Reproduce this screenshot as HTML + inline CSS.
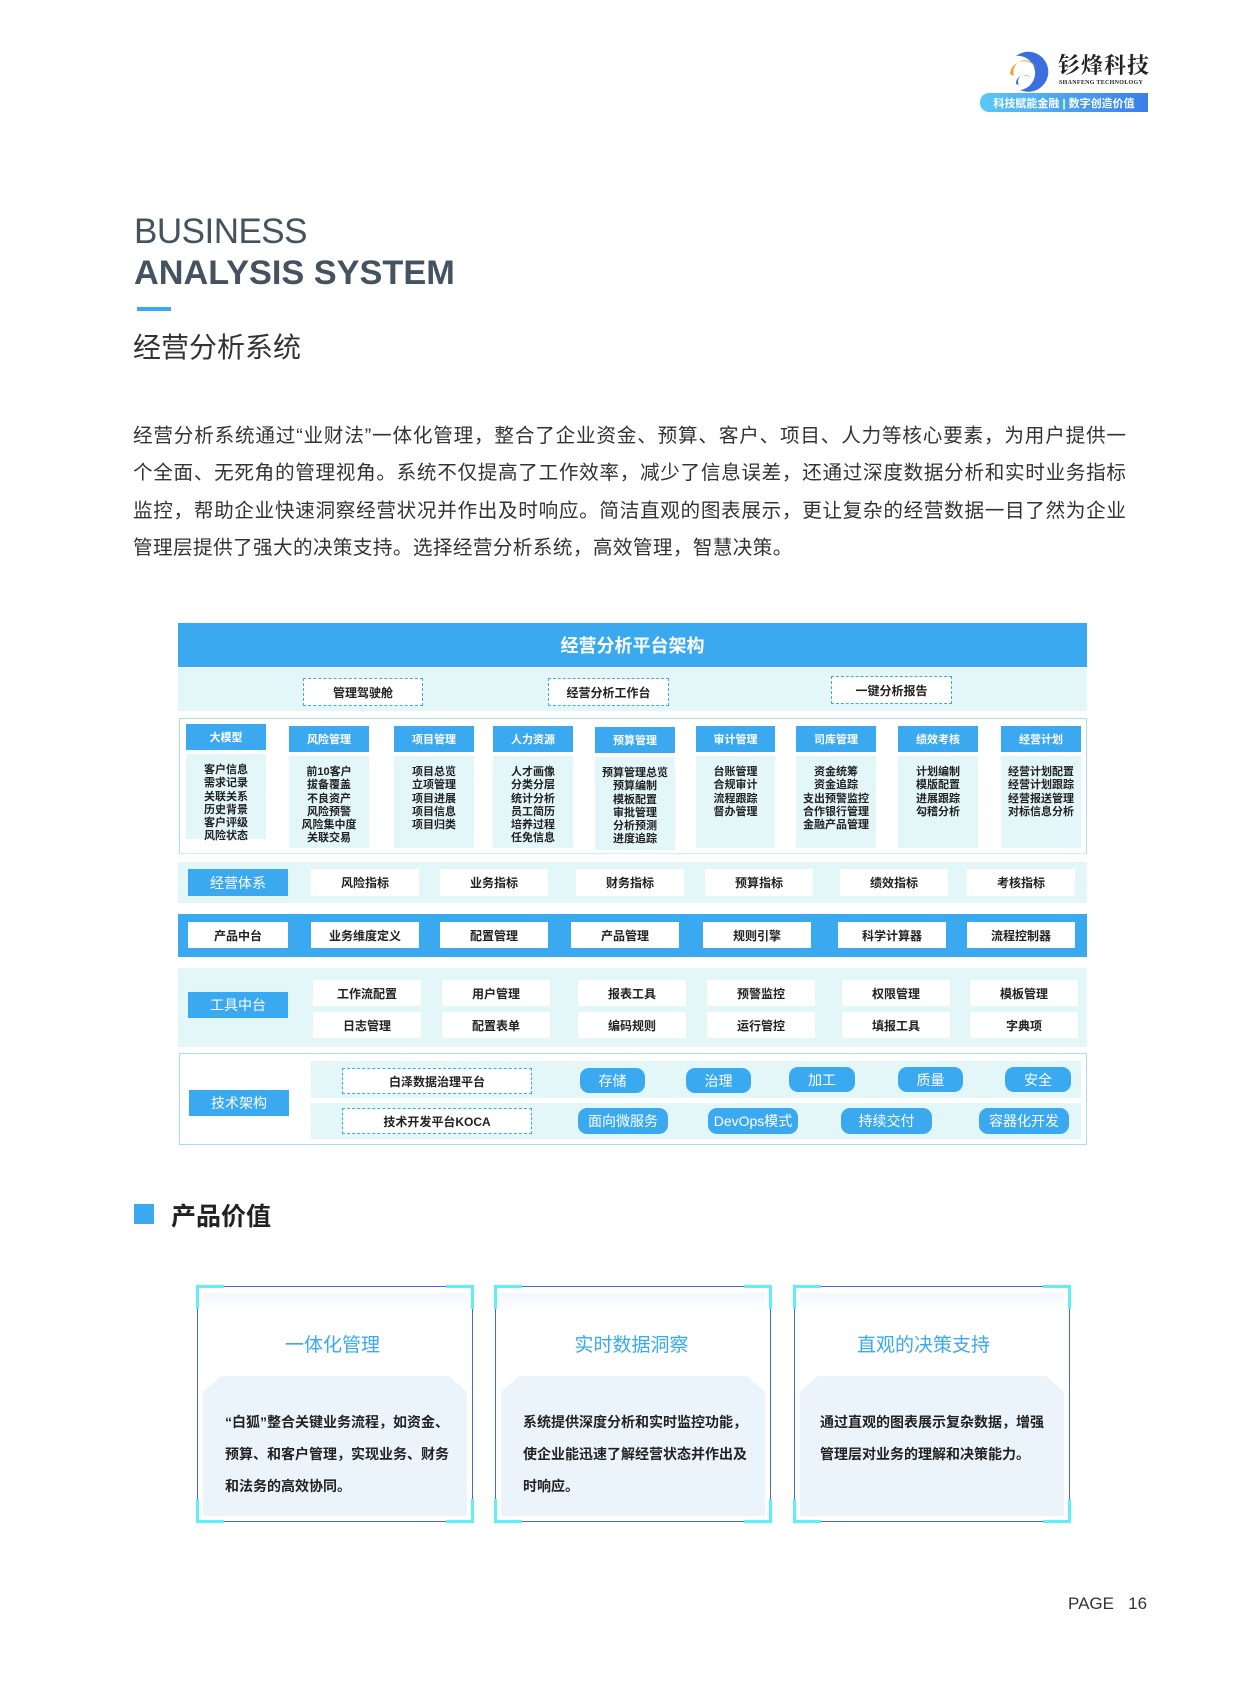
<!DOCTYPE html>
<html><head><meta charset="utf-8">
<style>
*{margin:0;padding:0;box-sizing:border-box}
body{width:1241px;height:1685px;position:relative;background:#fff;font-family:"Liberation Sans","Noto Sans CJK SC",sans-serif;overflow:hidden}
.a{position:absolute}
.c{display:flex;align-items:center;justify-content:center;text-align:center}
.blue{background:#3aa9ef;color:#fff}
.wb{background:#fff;color:#222;font-weight:bold;font-size:12px}
.dash{border:1.5px dashed #3aa9ef;background:#fff;font-weight:bold;font-size:12px;color:#222}
.pill{background:#3aa9ef;color:#fff;border-radius:9px;font-size:14px}
.mh{background:#3aa9ef;color:#fff;font-weight:bold;font-size:11px}
.mc{background:#e3f6f8;color:#222;font-weight:bold;font-size:11px;line-height:13.3px;text-align:center;padding-top:10px}
.p{font-size:19.6px;color:#333;left:133px;width:993px;white-space:nowrap;text-align:justify;text-align-last:justify}
.card{border:1.5px solid #4a63d8}
.cn{width:28px;height:24px;border-color:#5ff0f5;border-style:solid}
</style></head><body>

<!-- logo -->
<svg class="a" style="left:1006px;top:48px" width="48" height="46" viewBox="0 0 48 46">
<path d="M10 8 A20 20 0 1 1 14 42 A17 17 0 1 0 10 8Z" fill="#3b6fe0"/>
<path d="M4 26 A14 14 0 0 1 30 20 A11 11 0 0 0 8 28Z" fill="#f0a020"/>
<path d="M10 36 A8 8 0 0 1 24 30 A6 6 0 0 0 13 37Z" fill="#3b6fe0"/>
</svg>
<div class="a" style="left:1058px;top:54px;font-size:22px;line-height:22px;font-weight:bold;color:#222;font-family:'Noto Serif CJK SC',serif;letter-spacing:1px">钐烽科技</div>
<div class="a" style="left:1059px;top:80px;font-size:6px;line-height:7px;font-weight:bold;color:#222;font-family:'Liberation Serif',serif;letter-spacing:0.3px">SHANFENG TECHNOLOGY</div>
<div class="a c" style="left:980px;top:93px;width:168px;height:19px;border-radius:9px 0 0 9px;background:linear-gradient(90deg,#5ac8f5,#3a7fe8);color:#fff;font-size:11px;font-weight:bold">科技赋能金融 | 数字创造价值</div>

<!-- titles -->
<div class="a" style="left:134px;top:212px;font-size:35px;color:#44535f;letter-spacing:-0.5px">BUSINESS</div>
<div class="a" style="left:134px;top:254px;font-size:34.3px;font-weight:bold;color:#44535f">ANALYSIS SYSTEM</div>
<div class="a" style="left:137px;top:307px;width:34px;height:4px;background:#3aa9ef"></div>
<div class="a" style="left:133px;top:326px;font-size:28px;color:#333">经营分析系统</div>

<div class="a p" style="top:419px">经营分析系统通过“业财法”一体化管理，整合了企业资金、预算、客户、项目、人力等核心要素，为用户提供一</div>
<div class="a p" style="top:456px">个全面、无死角的管理视角。系统不仅提高了工作效率，减少了信息误差，还通过深度数据分析和实时业务指标</div>
<div class="a p" style="top:494px">监控，帮助企业快速洞察经营状况并作出及时响应。简洁直观的图表展示，更让复杂的经营数据一目了然为企业</div>
<div class="a" style="top:531px;left:133px;font-size:19.6px;color:#333;white-space:nowrap;letter-spacing:0.4px">管理层提供了强大的决策支持。选择经营分析系统，高效管理，智慧决策。</div>

<!-- diagram -->
<div class="a c blue" style="left:178px;top:623px;width:909px;height:44px;font-size:18px;font-weight:bold">经营分析平台架构</div>
<div class="a" style="left:178px;top:668px;width:909px;height:43px;background:#e3f7f9"></div>
<div class="a c dash" style="left:303px;top:678px;width:120px;height:28px">管理驾驶舱</div>
<div class="a c dash" style="left:548px;top:678px;width:121px;height:28px">经营分析工作台</div>
<div class="a c dash" style="left:831px;top:676px;width:121px;height:28px">一键分析报告</div>

<div class="a" style="left:179px;top:718px;width:908px;height:136px;border:1.5px solid #a9dcf5;border-bottom-color:#cfeefb"></div>
<div class="a c mh" style="left:186px;top:724px;width:80px;height:26px">大模型</div>
<div class="a mc" style="left:186px;top:754px;width:80px;height:85px">客户信息<br>需求记录<br>关联关系<br>历史背景<br>客户评级<br>风险状态</div>
<div class="a c mh" style="left:289px;top:726px;width:80px;height:26px">风险管理</div>
<div class="a mc" style="left:289px;top:756px;width:80px;height:92px">前10客户<br>拔备覆盖<br>不良资产<br>风险预警<br>风险集中度<br>关联交易</div>
<div class="a c mh" style="left:394px;top:726px;width:80px;height:26px">项目管理</div>
<div class="a mc" style="left:394px;top:756px;width:80px;height:92px">项目总览<br>立项管理<br>项目进展<br>项目信息<br>项目归类</div>
<div class="a c mh" style="left:493px;top:726px;width:80px;height:26px">人力资源</div>
<div class="a mc" style="left:493px;top:756px;width:80px;height:92px">人才画像<br>分类分层<br>统计分析<br>员工简历<br>培养过程<br>任免信息</div>
<div class="a c mh" style="left:595px;top:727px;width:80px;height:26px">预算管理</div>
<div class="a mc" style="left:595px;top:757px;width:80px;height:93px">预算管理总览<br>预算编制<br>模板配置<br>审批管理<br>分析预测<br>进度追踪</div>
<div class="a c mh" style="left:696px;top:726px;width:79px;height:26px">审计管理</div>
<div class="a mc" style="left:696px;top:756px;width:79px;height:92px">台账管理<br>合规审计<br>流程跟踪<br>督办管理</div>
<div class="a c mh" style="left:796px;top:726px;width:80px;height:26px">司库管理</div>
<div class="a mc" style="left:796px;top:756px;width:80px;height:92px">资金统筹<br>资金追踪<br>支出预警监控<br>合作银行管理<br>金融产品管理</div>
<div class="a c mh" style="left:898px;top:726px;width:80px;height:26px">绩效考核</div>
<div class="a mc" style="left:898px;top:756px;width:80px;height:92px">计划编制<br>模版配置<br>进展跟踪<br>勾稽分析</div>
<div class="a c mh" style="left:1001px;top:726px;width:80px;height:26px">经营计划</div>
<div class="a mc" style="left:1001px;top:756px;width:80px;height:92px">经营计划配置<br>经营计划跟踪<br>经营报送管理<br>对标信息分析</div>

<!-- 经营体系 -->
<div class="a" style="left:178px;top:862px;width:909px;height:41px;background:#e3f7f9"></div>
<div class="a c blue" style="left:188px;top:869px;width:100px;height:27px;font-size:14px">经营体系</div>
<div class="a c wb" style="left:311px;top:869px;width:108px;height:27px">风险指标</div>
<div class="a c wb" style="left:440px;top:869px;width:108px;height:27px">业务指标</div>
<div class="a c wb" style="left:576px;top:869px;width:108px;height:27px">财务指标</div>
<div class="a c wb" style="left:705px;top:869px;width:108px;height:27px">预算指标</div>
<div class="a c wb" style="left:840px;top:869px;width:108px;height:27px">绩效指标</div>
<div class="a c wb" style="left:967px;top:869px;width:108px;height:27px">考核指标</div>

<!-- 产品中台 -->
<div class="a" style="left:178px;top:914px;width:909px;height:43px;background:#3aa9ef"></div>
<div class="a c wb" style="left:188px;top:922px;width:100px;height:26px">产品中台</div>
<div class="a c wb" style="left:311px;top:922px;width:108px;height:26px">业务维度定义</div>
<div class="a c wb" style="left:440px;top:922px;width:108px;height:26px">配置管理</div>
<div class="a c wb" style="left:571px;top:922px;width:108px;height:26px">产品管理</div>
<div class="a c wb" style="left:703px;top:922px;width:108px;height:26px">规则引擎</div>
<div class="a c wb" style="left:838px;top:922px;width:108px;height:26px">科学计算器</div>
<div class="a c wb" style="left:967px;top:922px;width:108px;height:26px">流程控制器</div>

<!-- 工具中台 -->
<div class="a" style="left:178px;top:968px;width:909px;height:79px;background:#e3f7f9"></div>
<div class="a c blue" style="left:188px;top:992px;width:100px;height:26px;font-size:14px">工具中台</div>
<div class="a c wb" style="left:313px;top:980px;width:108px;height:26px">工作流配置</div>
<div class="a c wb" style="left:442px;top:980px;width:108px;height:26px">用户管理</div>
<div class="a c wb" style="left:578px;top:980px;width:108px;height:26px">报表工具</div>
<div class="a c wb" style="left:707px;top:980px;width:108px;height:26px">预警监控</div>
<div class="a c wb" style="left:842px;top:980px;width:108px;height:26px">权限管理</div>
<div class="a c wb" style="left:970px;top:980px;width:108px;height:26px">模板管理</div>
<div class="a c wb" style="left:313px;top:1012px;width:108px;height:26px">日志管理</div>
<div class="a c wb" style="left:442px;top:1012px;width:108px;height:26px">配置表单</div>
<div class="a c wb" style="left:578px;top:1012px;width:108px;height:26px">编码规则</div>
<div class="a c wb" style="left:707px;top:1012px;width:108px;height:26px">运行管控</div>
<div class="a c wb" style="left:842px;top:1012px;width:108px;height:26px">填报工具</div>
<div class="a c wb" style="left:970px;top:1012px;width:108px;height:26px">字典项</div>

<!-- 技术架构 -->
<div class="a" style="left:179px;top:1053px;width:908px;height:92px;border:1.5px solid #a9dcf5"></div>
<div class="a" style="left:311px;top:1061px;width:770px;height:37px;background:#e3f7f9"></div>
<div class="a" style="left:311px;top:1103px;width:770px;height:36px;background:#e3f7f9"></div>
<div class="a c blue" style="left:189px;top:1090px;width:100px;height:26px;font-size:14px">技术架构</div>
<div class="a c dash" style="left:342px;top:1068px;width:190px;height:26px">白泽数据治理平台</div>
<div class="a c dash" style="left:342px;top:1108px;width:190px;height:26px">技术开发平台KOCA</div>
<div class="a c pill" style="left:580px;top:1068px;width:65px;height:25px">存储</div>
<div class="a c pill" style="left:686px;top:1068px;width:65px;height:25px">治理</div>
<div class="a c pill" style="left:789px;top:1067px;width:66px;height:25px">加工</div>
<div class="a c pill" style="left:898px;top:1067px;width:65px;height:25px">质量</div>
<div class="a c pill" style="left:1005px;top:1067px;width:66px;height:25px">安全</div>
<div class="a c pill" style="left:578px;top:1108px;width:90px;height:26px">面向微服务</div>
<div class="a c pill" style="left:708px;top:1108px;width:90px;height:26px">DevOps模式</div>
<div class="a c pill" style="left:841px;top:1108px;width:91px;height:26px">持续交付</div>
<div class="a c pill" style="left:979px;top:1108px;width:90px;height:26px">容器化开发</div>

<!-- 产品价值 -->
<div class="a" style="left:134px;top:1204px;width:20px;height:20px;background:#3aa9ef"></div>
<div class="a" style="left:171px;top:1197px;font-size:25px;font-weight:bold;color:#222">产品价值</div>

<!-- cards -->
<div class="a card" style="left:197px;top:1286px;width:276px;height:236px"></div>
<div class="a card" style="left:495px;top:1286px;width:276px;height:236px"></div>
<div class="a card" style="left:794px;top:1286px;width:276px;height:236px"></div>

<div class="a" style="left:203px;top:1293px;width:264px;height:223px;background:linear-gradient(#f2f7fc,#fff 8%,#fff)"></div>
<div class="a" style="left:501px;top:1293px;width:264px;height:223px;background:linear-gradient(#f2f7fc,#fff 8%,#fff)"></div>
<div class="a" style="left:800px;top:1293px;width:264px;height:223px;background:linear-gradient(#f2f7fc,#fff 8%,#fff)"></div>

<div class="a" style="left:203px;top:1376px;width:264px;height:140px;background:#ebf4fb;clip-path:polygon(0 16px,18px 0,calc(100% - 18px) 0,100% 16px,100% 100%,0 100%)"></div>
<div class="a" style="left:501px;top:1376px;width:264px;height:140px;background:#ebf4fb;clip-path:polygon(0 16px,18px 0,calc(100% - 18px) 0,100% 16px,100% 100%,0 100%)"></div>
<div class="a" style="left:800px;top:1376px;width:264px;height:140px;background:#ebf4fb;clip-path:polygon(0 16px,18px 0,calc(100% - 18px) 0,100% 16px,100% 100%,0 100%)"></div>

<div class="a" style="left:193px;top:1330px;width:279px;text-align:center;font-size:19px;color:#3aa9ef">一体化管理</div>
<div class="a" style="left:492px;top:1330px;width:279px;text-align:center;font-size:19px;color:#3aa9ef">实时数据洞察</div>
<div class="a" style="left:784px;top:1330px;width:279px;text-align:center;font-size:19px;color:#3aa9ef">直观的决策支持</div>

<div class="a" style="left:225px;top:1406px;font-size:14px;font-weight:bold;color:#222;line-height:32px;white-space:nowrap">“白狐”整合关键业务流程，如资金、<br>预算、和客户管理，实现业务、财务<br>和法务的高效协同。</div>
<div class="a" style="left:523px;top:1406px;font-size:14px;font-weight:bold;color:#222;line-height:32px;white-space:nowrap">系统提供深度分析和实时监控功能，<br>使企业能迅速了解经营状态并作出及<br>时响应。</div>
<div class="a" style="left:820px;top:1406px;font-size:14px;font-weight:bold;color:#222;line-height:32px;white-space:nowrap">通过直观的图表展示复杂数据，增强<br>管理层对业务的理解和决策能力。</div>

<!-- corner brackets -->
<div class="a cn" style="left:196px;top:1285px;border-width:3px 0 0 3px"></div>
<div class="a cn" style="left:446px;top:1285px;border-width:3px 3px 0 0"></div>
<div class="a cn" style="left:196px;top:1499px;border-width:0 0 3px 3px"></div>
<div class="a cn" style="left:446px;top:1499px;border-width:0 3px 3px 0"></div>
<div class="a cn" style="left:494px;top:1285px;border-width:3px 0 0 3px"></div>
<div class="a cn" style="left:744px;top:1285px;border-width:3px 3px 0 0"></div>
<div class="a cn" style="left:494px;top:1499px;border-width:0 0 3px 3px"></div>
<div class="a cn" style="left:744px;top:1499px;border-width:0 3px 3px 0"></div>
<div class="a cn" style="left:793px;top:1285px;border-width:3px 0 0 3px"></div>
<div class="a cn" style="left:1043px;top:1285px;border-width:3px 3px 0 0"></div>
<div class="a cn" style="left:793px;top:1499px;border-width:0 0 3px 3px"></div>
<div class="a cn" style="left:1043px;top:1499px;border-width:0 3px 3px 0"></div>

<div class="a" style="left:1068px;top:1594px;font-size:17px;color:#333;white-space:nowrap">PAGE&nbsp;&nbsp;&nbsp;16</div>
</body></html>
